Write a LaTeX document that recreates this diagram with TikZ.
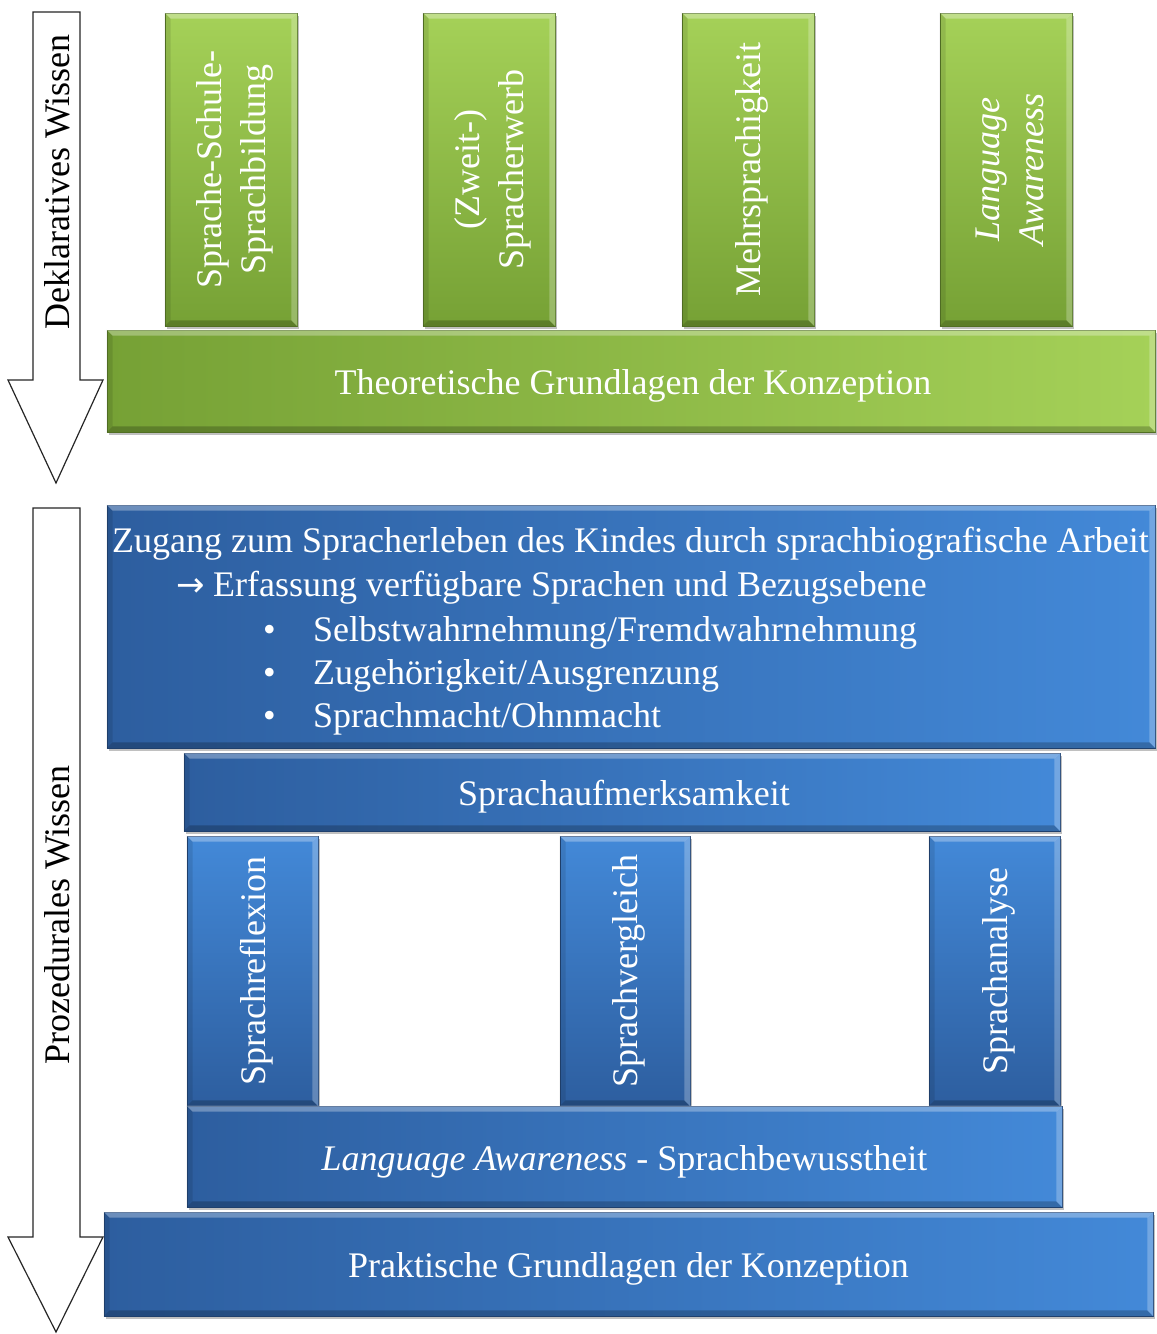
\documentclass[tikz,border=0pt]{standalone}
\usepackage{fontspec}
\setmainfont{Liberation Serif}
\newfontfamily\arrowfont{DejaVu Sans}
\usetikzlibrary{calc,shadows}
\definecolor{gL}{HTML}{A5D158}
\definecolor{gD}{HTML}{76A135}
\definecolor{bL}{HTML}{4389D8}
\definecolor{bD}{HTML}{2D5E9F}
\newcommand\bevelbox[1]{%
 \fill[white,opacity=0.30] (#1.north west) -- (#1.north east) -- ($(#1.north east)+(-6,6)$) -- ($(#1.north west)+(6,6)$) -- cycle;
 \fill[white,opacity=0.25] (#1.north east) -- (#1.south east) -- ($(#1.south east)+(-6,-6)$) -- ($(#1.north east)+(-6,6)$) -- cycle;
 \fill[black,opacity=0.22] (#1.south east) -- (#1.south west) -- ($(#1.south west)+(6,-6)$) -- ($(#1.south east)+(-6,-6)$) -- cycle;
 \fill[black,opacity=0.10] (#1.south west) -- (#1.north west) -- ($(#1.north west)+(6,6)$) -- ($(#1.south west)+(6,-6)$) -- cycle;
}
\begin{document}
\begin{tikzpicture}[x=1pt,y=-1pt,
  lbl/.style={text=white,inner sep=0pt,font=\fontsize{36}{44}\selectfont},
  dark/.style={text=black,inner sep=0pt,font=\fontsize{36}{44}\selectfont},
  vlbl/.style={lbl,xshift=4pt,rotate=90},
  hlbl/.style={lbl,yshift=-5pt},
  basebox/.style={inner sep=0pt, line width=0.6pt,
    drop shadow={shadow xshift=2pt,shadow yshift=-3pt,opacity=0.35,fill=black!70}},
  gH/.style={basebox, draw=gD!75!black, left color=gD, right color=gL},
  gV/.style={basebox, draw=gD!75!black, top color=gL, bottom color=gD},
  bH/.style={basebox, draw=bD!75!black, left color=bD, right color=bL},
  bV/.style={basebox, draw=bD!75!black, top color=bL, bottom color=bD},
  arrowline/.style={draw=black!85, line width=1.2pt, fill=white}]
\useasboundingbox (0,0) rectangle (1157,1334);
\fill[white] (0,0) rectangle (1157,1334);

% ---------- top arrow
\draw[arrowline] (33,12) -- (80,12) -- (80,380) -- (103,380) -- (56,483) -- (8,380) -- (33,380) -- cycle;
\node[dark,rotate=90] (dekl) at (57,182) {Deklaratives Wissen};

% ---------- green columns
\node[gV,minimum width=132,minimum height=313] (g1) at (231,169.5) {};
\node[gV,minimum width=132,minimum height=313] (g2) at (489,169.5) {};
\node[gV,minimum width=132,minimum height=313] (g3) at (748,169.5) {};
\node[gV,minimum width=132,minimum height=313] (g4) at (1006,169.5) {};
\bevelbox{g1}\bevelbox{g2}\bevelbox{g3}\bevelbox{g4}
\node[vlbl,align=center] (tg1) at (g1) {Sprache-Schule-\\Sprachbildung};
\node[vlbl,align=center] (tg2) at (g2) {(Zweit-)\\Spracherwerb};
\node[vlbl] (tg3) at (g3) {Mehrsprachigkeit};
\node[vlbl,align=center,font=\fontsize{36}{44}\selectfont\itshape] (tg4) at (g4) {Language\\Awareness};

% ---------- green base
\node[gH,minimum width=1048,minimum height=102] (gbase) at (631,381) {};
\bevelbox{gbase}
\node[hlbl] (tgbase) at (633,381) {Theoretische Grundlagen der Konzeption};

% ---------- bottom arrow
\draw[arrowline] (33,508) -- (80,508) -- (80,1237) -- (103,1237) -- (56,1332) -- (8,1237) -- (33,1237) -- cycle;
\node[dark,rotate=90] (proz) at (57,915) {Prozedurales Wissen};

% ---------- blue top box
\node[bH,minimum width=1048,minimum height=243] (b1) at (631,626.5) {};
\bevelbox{b1}
\node[lbl,anchor=base west] (l1) at (112,552) {Zugang zum Spracherleben des Kindes durch sprachbiografische Arbeit};
\node[lbl,anchor=base west] (l2) at (176,596) {\makebox[37pt][l]{\arrowfont\fontsize{34}{44}\selectfont →}Erfassung verfügbare Sprachen und Bezugsebene};
\node[lbl,anchor=base west] (l3) at (263,641) {\makebox[50pt][l]{•}Selbstwahrnehmung/Fremdwahrnehmung};
\node[lbl,anchor=base west] (l4) at (263,684) {\makebox[50pt][l]{•}Zugehörigkeit/Ausgrenzung};
\node[lbl,anchor=base west] (l5) at (263,727) {\makebox[50pt][l]{•}Sprachmacht/Ohnmacht};

% ---------- Sprachaufmerksamkeit
\node[bH,minimum width=876,minimum height=78] (b2) at (622,792) {};
\bevelbox{b2}
\node[hlbl] (tb2) at (624,792) {Sprachaufmerksamkeit};

% ---------- blue columns
\node[bV,minimum width=131,minimum height=270] (c1) at (252.5,971) {};
\node[bV,minimum width=130,minimum height=270] (c2) at (625,971) {};
\node[bV,minimum width=131,minimum height=270] (c3) at (994.5,971) {};
\bevelbox{c1}\bevelbox{c2}\bevelbox{c3}
\node[vlbl] (tc1) at (c1) {Sprachreflexion};
\node[vlbl] (tc2) at (c2) {Sprachvergleich};
\node[vlbl] (tc3) at (c3) {Sprachanalyse};

% ---------- Language Awareness bar
\node[bH,minimum width=875,minimum height=101] (b3) at (624.5,1156.5) {};
\bevelbox{b3}
\node[hlbl] (tb3) at (b3) {\textit{Language Awareness} - Sprachbewusstheit};

% ---------- Praktische
\node[bH,minimum width=1049,minimum height=104] (b4) at (628.5,1264) {};
\bevelbox{b4}
\node[hlbl] (tb4) at (b4) {Praktische Grundlagen der Konzeption};
\end{tikzpicture}
\end{document}
